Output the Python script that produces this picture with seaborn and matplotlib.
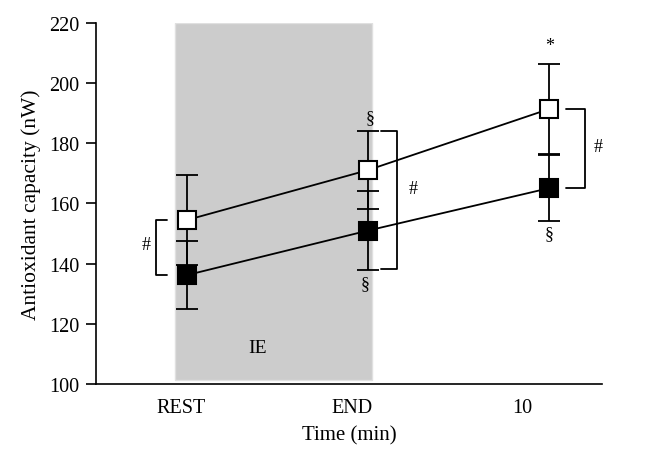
import numpy as np
import pandas as pd
import matplotlib
matplotlib.use("Agg")
import matplotlib.pyplot as plt
import seaborn as sns

# ==========================
# DATA
# ==========================

time_labels = ["REST", "END", "10"]
time_pos = [0, 1, 2]
label_pos = [-0.03, 0.91, 1.85]

open_mean = [154.5, 171.1, 191.4]
open_err = [15.0, 12.9, 14.8]

filled_mean = [136.2, 151.0, 165.1]
filled_err = [11.4, 13.0, 10.9]

# shaded exercise window (x from, x to, y from, y to)
ie_box = [-0.066, 1.022, 101.5, 220.0]
ie_label_xy = (0.39, 112.0)

# significance brackets: x left, x right, y top, y bottom, text x, text y
bracket_x = [(-0.17, -0.11), (1.07, 1.16), (2.09, 2.20)]
bracket_y = [(154.5, 136.2), (184.0, 138.2), (191.4, 165.1)]
hash_xy = [(-0.225, 146.5), (1.25, 165.0), (2.27, 179.0)]

# extra markers above / below the error bars
mark_text = ["§", "§", "*", "§"]
mark_xy = [(1.01, 188.5), (0.985, 133.5), (2.0, 212.5), (2.0, 150.0)]

# ==========================
# PLOT
# ==========================

sns.set_theme(style="ticks")
plt.rcParams["font.family"] = ["Liberation Serif", "DejaVu Serif"]
plt.rcParams["text.color"] = "black"
plt.rcParams["axes.labelcolor"] = "black"
plt.rcParams["xtick.color"] = "black"
plt.rcParams["ytick.color"] = "black"

fig = plt.figure(figsize=(6.52, 4.6), dpi=100)
ax = fig.add_axes([0.147, 0.163, 0.776, 0.785])

ax.add_patch(plt.Rectangle((ie_box[0], ie_box[2]), ie_box[1] - ie_box[0],
                           ie_box[3] - ie_box[2], facecolor="#cccccc",
                           edgecolor="#e0e0e0", lw=1, zorder=0))
ax.text(ie_label_xy[0], ie_label_xy[1], "IE", ha="center", va="center",
        fontsize=14)

# error bars behind the markers
ax.errorbar(time_pos, open_mean, yerr=open_err, fmt="none", ecolor="black",
            elinewidth=1.3, capsize=8, capthick=1.3, zorder=2)
ax.errorbar(time_pos, filled_mean, yerr=filled_err, fmt="none", ecolor="black",
            elinewidth=1.3, capsize=8, capthick=1.3, zorder=2)

df = pd.DataFrame({
    "time": time_pos * 2,
    "value": open_mean + filled_mean,
    "group": ["open"] * 3 + ["filled"] * 3,
})

sns.lineplot(data=df[df.group == "open"], x="time", y="value", ax=ax,
             color="black", lw=1.3, marker="s", markersize=13,
             markerfacecolor="white", markeredgecolor="black",
             markeredgewidth=1.5, zorder=3)
sns.lineplot(data=df[df.group == "filled"], x="time", y="value", ax=ax,
             color="black", lw=1.3, marker="s", markersize=13,
             markerfacecolor="black", markeredgecolor="black",
             markeredgewidth=1.5, zorder=3)

# brackets
for (x0, x1), (y0, y1), (tx, ty) in zip(bracket_x, bracket_y, hash_xy):
    if x1 < 0:
        ax.plot([x1, x0, x0, x1], [y0, y0, y1, y1], color="black", lw=1.3)
    else:
        ax.plot([x0, x1, x1, x0], [y0, y0, y1, y1], color="black", lw=1.3)
    ax.text(tx, ty, "#", ha="center", va="center", fontsize=13)

for t, (mx, my) in zip(mark_text, mark_xy):
    ax.text(mx, my, t, ha="center", va="center", fontsize=13)

ax.set_xlim(-0.503, 2.29)
ax.set_ylim(100, 220)
ax.set_yticks(np.arange(100, 221, 20))
ax.set_xticks(label_pos)
ax.set_xticklabels(time_labels)
ax.tick_params(axis="x", length=0, labelsize=14.5, pad=10)
ax.tick_params(axis="y", length=7, width=1.2, labelsize=14.5, direction="out",
               pad=5)
ax.set_xlabel("Time (min)", fontsize=15, labelpad=6)
ax.set_ylabel("Antioxidant capacity (nW)", fontsize=15.5, labelpad=6)
for side in ["top", "right"]:
    ax.spines[side].set_visible(False)
for side in ["left", "bottom"]:
    ax.spines[side].set_linewidth(1.2)
    ax.spines[side].set_color("black")
ax.grid(False)
if ax.get_legend():
    ax.get_legend().remove()

fig.savefig("out.png", dpi=100)
